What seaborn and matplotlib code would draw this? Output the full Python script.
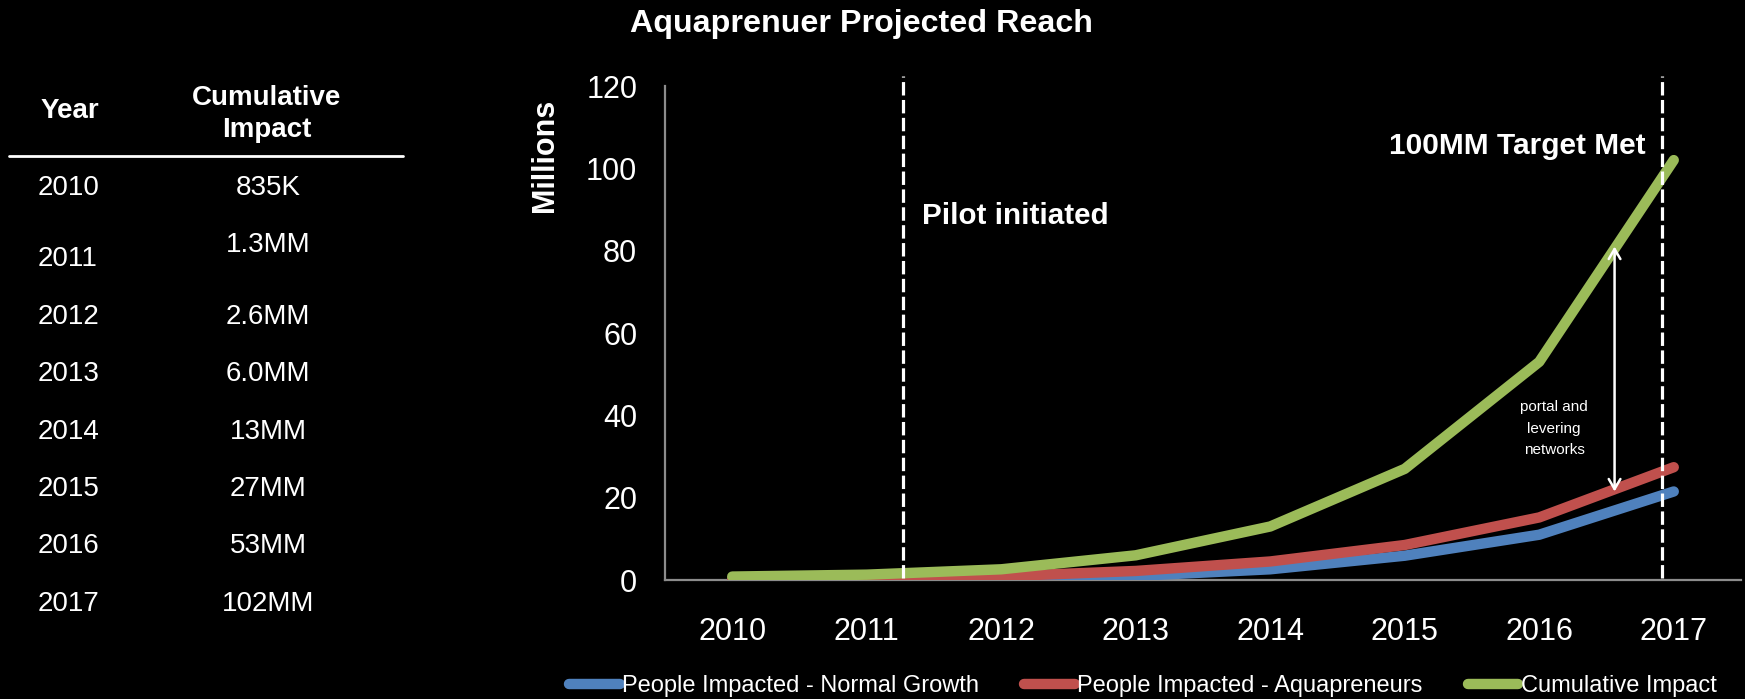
import matplotlib
matplotlib.use("Agg")
import matplotlib.pyplot as plt
from matplotlib import font_manager
import seaborn as sns
import pandas as pd

# --- data -------------------------------------------------------------
years = ["2010", "2011", "2012", "2013", "2014", "2015", "2016", "2017"]
normal_growth = [0.1, 0.2, 0.4, 1.0, 2.6, 5.9, 11.0, 21.5]
aquapreneurs = [0.2, 0.4, 0.9, 2.2, 4.5, 8.5, 15.2, 27.4]
cumulative = [0.835, 1.3, 2.6, 6.0, 13.0, 27.0, 53.0, 102.0]
cumulative_labels = ["835K", "1.3MM", "2.6MM", "6.0MM", "13MM", "27MM", "53MM", "102MM"]
series_names = ["People Impacted - Normal Growth",
                "People Impacted - Aquapreneurs",
                "Cumulative Impact"]
series_colors = ["#4F81BD", "#C0504D", "#9BBB59"]
y_ticks = [0, 20, 40, 60, 80, 100, 120]

# --- style ------------------------------------------------------------
sns.set_theme(style="dark")
FONT = "Liberation Sans"
installed = {f.name for f in font_manager.fontManager.ttflist}
NARROW = "Liberation Sans Narrow" if "Liberation Sans Narrow" in installed else FONT
plt.rcParams["font.family"] = [FONT, "DejaVu Sans"]
plt.rcParams["text.color"] = "white"

W, H = 1745, 699
fig = plt.figure(figsize=(W / 100, H / 100), dpi=100, facecolor="black")
ax = fig.add_axes([665 / W, 1 - 580 / H, (1741 - 665) / W, (580 - 86) / H])
ax.set_facecolor("black")

df = pd.DataFrame({
    "pos": list(range(len(years))) * 3,
    "value": normal_growth + aquapreneurs + cumulative,
    "series": [s for s in series_names for _ in years],
})
sns.lineplot(data=df, x="pos", y="value", hue="series", hue_order=series_names,
             palette=series_colors, linewidth=7.5, solid_capstyle="round",
             legend=False, ax=ax, zorder=3)

# --- axes -------------------------------------------------------------
ax.set_xlim(-0.5, len(years) - 0.5)
ax.set_ylim(0, 120)
ax.set_xticks(range(len(years)))
ax.set_xticklabels(years)
ax.set_yticks(y_ticks)
ax.tick_params(axis="x", length=0, pad=27, labelsize=22, colors="white")
ax.tick_params(axis="y", length=0, pad=20, labelsize=22, colors="white")
ax.grid(False)
ax.set_xlabel("")
ax.set_ylabel("")
for side in ("top", "right"):
    ax.spines[side].set_visible(False)
for side in ("left", "bottom"):
    ax.spines[side].set_color("#8c8c8c")
    ax.spines[side].set_linewidth(1.6)

# milestone markers
for xpos in (1.27, 6.91):
    ax.plot([xpos, xpos], [0.5, 122.5], color="white", lw=2.3,
            linestyle=(0, (4.2, 1.4)), zorder=5, clip_on=False)

ax.text(1.41, 88.5, "Pilot initiated", fontsize=21.3, fontweight="bold",
        color="white", ha="left", va="center")
ax.text(6.79, 105.5, "100MM Target Met", fontsize=21.5, fontweight="bold",
        color="white", ha="right", va="center")

ax.annotate("", xy=(6.56, 81), xytext=(6.56, 21.5),
            arrowprops=dict(arrowstyle="<->,head_length=0.6,head_width=0.35",
                            color="white", lw=1.8, shrinkA=0, shrinkB=0),
            zorder=6)
ax.text(6.11, 36.8, "portal and\nlevering\nnetworks", fontsize=11,
        family=[NARROW, "DejaVu Sans"], color="white", ha="center",
        va="center", linespacing=1.7)

# y axis title and chart title
fig.text(545 / W, 1 - 155 / H, "Millions", rotation=90, fontsize=22,
         fontweight="bold", color="white", ha="center", va="center")
fig.text(861 / W, 1 - 24 / H, "Aquaprenuer Projected Reach", fontsize=23.2,
         fontweight="bold", color="white", ha="center", va="center")

# --- legend -----------------------------------------------------------
handles = ax.lines[:3]
fig.legend(handles, series_names, loc="center", bbox_to_anchor=(1143 / W, 1 - 686 / H),
           ncol=3, frameon=False, handlelength=2.15,
           handletextpad=0.1, columnspacing=1.9, labelcolor="white",
           prop={"family": [NARROW, "DejaVu Sans"], "size": 17})

# --- side table -------------------------------------------------------
fig.text(70 / W, 1 - 111 / H, "Year", fontsize=20, fontweight="bold",
         color="white", ha="center", va="center")
fig.text(267 / W, 1 - 114 / H, "Cumulative\nImpact", fontsize=20,
         fontweight="bold", color="white", ha="center", va="center",
         linespacing=1.3)
fig.add_artist(plt.Line2D([9 / W, 403 / W], [1 - 156 / H, 1 - 156 / H],
                          color="white", lw=2))

row_top, row_step = 202, 57.4
year_shift = {0: -14}
value_shift = {0: -14, 1: -14}
for i, (yr, lab) in enumerate(zip(years, cumulative_labels)):
    yy = row_top + row_step * i
    fig.text(38 / W, 1 - (yy + year_shift.get(i, 0)) / H, yr, fontsize=20,
             color="white", ha="left", va="center")
    fig.text(268 / W, 1 - (yy + value_shift.get(i, 0)) / H, lab, fontsize=20,
             color="white", ha="center", va="center")

fig.savefig("out.png", dpi=100, facecolor="black")
